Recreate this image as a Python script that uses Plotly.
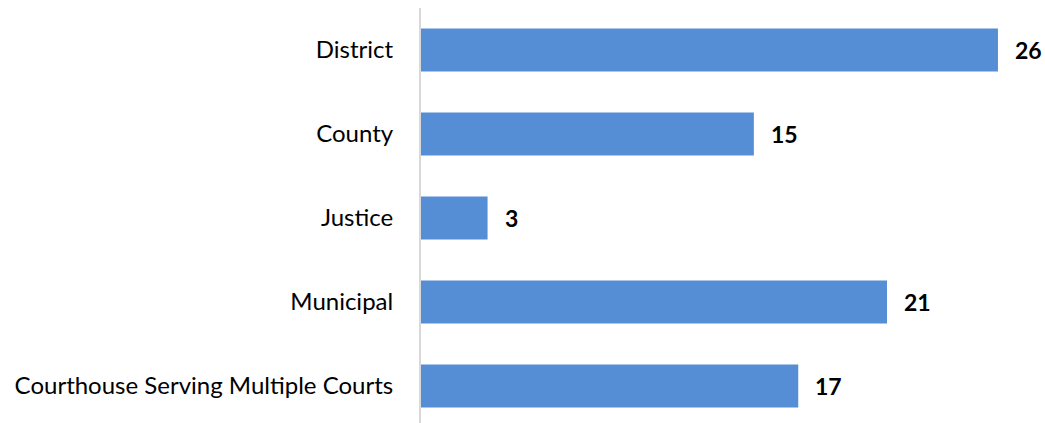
import plotly.graph_objects as go

categories = ["District", "County", "Justice", "Municipal", "Courthouse Serving Multiple Courts"]
values = [26, 15, 3, 21, 17]

fig = go.Figure()
fig.add_trace(go.Bar(
    x=values, y=categories, orientation="h",
    marker=dict(color="#558ED5", line=dict(width=0)),
    width=0.51, hoverinfo="skip",
))
for c, v in zip(categories, values):
    fig.add_annotation(x=v, y=c, text=f"<b>{v}</b>", showarrow=False,
                       xanchor="left", xshift=15,
                       font=dict(family="Lato", size=23, color="#000000"))

fig.update_layout(
    width=1045, height=423,
    margin=dict(l=421, r=0, t=8, b=0, pad=0),
    paper_bgcolor="white", plot_bgcolor="white",
    showlegend=False,
    font=dict(family="Lato", size=24, color="#000000"),
    xaxis=dict(range=[0, 28.12], showgrid=False, zeroline=False,
               showticklabels=False, showline=False),
    yaxis=dict(type="category", categoryorder="array", categoryarray=categories,
               range=[4.44, -0.5], showgrid=False, zeroline=False,
               showline=True, linecolor="#d9d9d9", linewidth=2,
               ticks="", ticklabelstandoff=21, automargin=False,
               tickfont=dict(family="Lato", size=24, color="#000000")),
)
fig.write_html(
    "out.html",
    config={"displayModeBar": False},
    post_script="document.body.style.margin='0';document.body.style.overflow='hidden';",
)
